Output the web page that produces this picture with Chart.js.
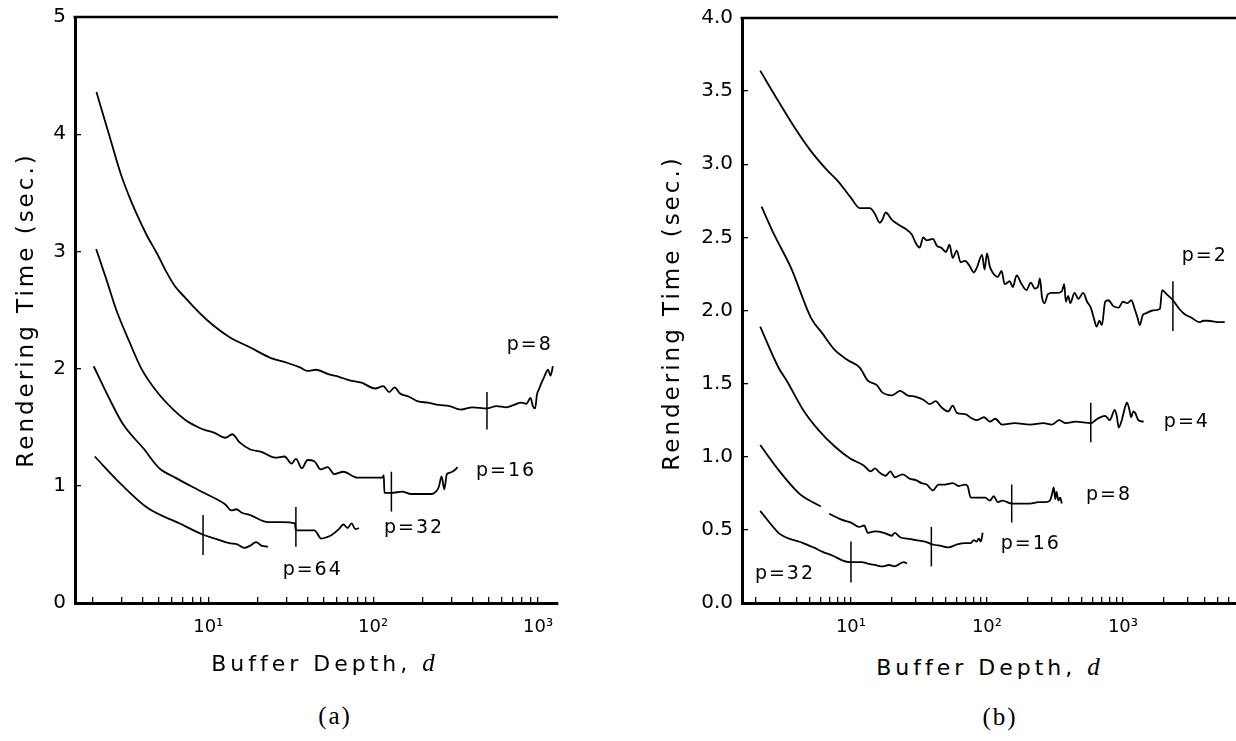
<!DOCTYPE html>
<html><head><meta charset="utf-8">
<script src="https://cdn.jsdelivr.net/npm/chart.js@4.4.1/dist/chart.umd.min.js"></script>
<style>
html,body{margin:0;padding:0;background:#fff;width:1236px;height:741px;overflow:hidden;position:relative;font-family:'DejaVu Sans',sans-serif;color:#000}
canvas{position:absolute;top:0}
#ca{left:0}
#cb{left:600px}
.t{position:absolute;white-space:nowrap;text-align:center}
.ytitle{width:400px;height:30px;line-height:30px;font-size:23px;letter-spacing:3px;transform:rotate(-90deg)}
.xtitle{width:400px;height:30px;line-height:30px;font-size:22px;letter-spacing:4px}
.cap{width:100px;height:30px;line-height:30px;font-family:'Liberation Serif',serif;font-size:25px;letter-spacing:2px}
.d{font-family:'Liberation Serif',serif;font-style:italic;font-size:25px;letter-spacing:0}
</style></head>
<body>
<canvas id="ca" width="560" height="650"></canvas>
<canvas id="cb" width="636" height="650"></canvas>
<div class="t ytitle" style="left:-175px;top:295px">Rendering Time (sec.)</div>
<div class="t ytitle" style="left:471px;top:298px">Rendering Time (sec.)</div>
<div class="t xtitle" style="left:123px;top:648px">Buffer Depth, <span class="d">d</span></div>
<div class="t xtitle" style="left:788px;top:652px">Buffer Depth, <span class="d">d</span></div>
<div class="t cap" style="left:285px;top:701px">(a)</div>
<div class="t cap" style="left:950px;top:702px">(b)</div>
<script>
// ---------- Panel (a) data: [buffer depth d, rendering time (s)] ----------
const aP8 = [[2.1,4.36],[2.3,4.17],[2.5,4.0],[2.75,3.8],[3.0,3.63],[3.25,3.5],[3.65,3.33],[4.23,3.14],[4.9,2.98],[5.5,2.84],[6.3,2.70],[7.2,2.61],[8.1,2.53],[9.9,2.41],[13.4,2.27],[18,2.18],[24,2.09],[30,2.05],[36,2.01],[40,1.98],[45,1.99],[54,1.95],[62,1.93],[72,1.90],[85,1.88],[103,1.83],[115,1.85],[125,1.80],[135,1.84],[145,1.79],[165,1.76],[187,1.72],[215,1.71],[250,1.69],[290,1.68],[340,1.65],[400,1.67],[490,1.66],[560,1.68],[640,1.67],[715,1.69],[790,1.71],[850,1.70],[900,1.75],[930,1.68],[960,1.66],[985,1.78],[1010,1.82],[1050,1.88],[1090,1.93],[1150,1.99],[1190,1.94],[1230,2.02]];
const aP16 = [[2.09,3.02],[2.4,2.77],[2.77,2.5],[3.3,2.24],[3.93,2.0],[4.9,1.8],[6.14,1.65],[7.3,1.56],[8.7,1.5],[9.4,1.48],[11,1.45],[12.7,1.41],[14,1.44],[15.5,1.37],[18,1.31],[21,1.29],[25.5,1.24],[29,1.25],[32,1.19],[34,1.23],[37,1.15],[40,1.22],[44,1.21],[48,1.14],[53,1.16],[58,1.10],[66,1.12],[80,1.07],[95,1.07],[114,1.07],[116,1.09],[117,0.94],[129,0.94],[150,0.95],[170,0.93],[200,0.93],[227,0.93],[240,0.95],[250,0.99],[260,1.08],[270,0.97],[280,1.10],[290,1.11],[310,1.13],[325,1.16]];
const aP32 = [[2.02,2.02],[2.5,1.75],[3.06,1.52],[4.04,1.32],[5.05,1.15],[6.3,1.07],[9.4,0.94],[12.7,0.84],[13.8,0.79],[14.8,0.80],[16,0.77],[18,0.75],[23,0.69],[28,0.69],[33.5,0.68],[34,0.62],[40,0.62],[44,0.62],[48.5,0.55],[52,0.56],[56,0.58],[62,0.63],[66,0.67],[70,0.64],[74,0.68],[78,0.63],[82,0.64]];
const aP64 = [[2.05,1.25],[2.98,1.01],[4.3,0.81],[6.67,0.68],[9.4,0.58],[11,0.55],[13.4,0.51],[15,0.50],[16.5,0.47],[18,0.49],[19.5,0.52],[21,0.49],[23,0.48]];
// vertical marks: [d, low, high]
const aMarks = [[490,1.48,1.80],[129,0.78,1.12],[34,0.48,0.82],[9.3,0.41,0.75]];
const aLabels = ['p=8','p=16','p=32','p=64'];
const aLabelAt = [[890,2.20],[640,1.13],[177,0.64],[43,0.28]];

// ---------- Panel (b) data ----------
const bP2 = [[2.15,3.64],[2.93,3.43],[3.86,3.25],[5.08,3.09],[6.67,2.96],[8.1,2.88],[10,2.77],[11.6,2.70],[13.8,2.70],[15,2.66],[16.3,2.60],[17,2.62],[18,2.67],[20,2.62],[23,2.58],[25,2.56],[28,2.52],[30,2.46],[32,2.43],[34,2.50],[36,2.48],[40,2.49],[43,2.44],[46,2.43],[50,2.40],[53,2.45],[56,2.36],[60,2.41],[64,2.33],[69,2.34],[75,2.30],[80,2.26],[84,2.29],[92,2.38],[96,2.28],[100,2.39],[105,2.30],[110,2.26],[120,2.23],[128,2.27],[135,2.18],[147,2.20],[155,2.16],[165,2.24],[180,2.18],[195,2.14],[210,2.19],[225,2.15],[237,2.16],[245,2.22],[254,2.09],[265,2.05],[280,2.11],[300,2.12],[330,2.12],[355,2.13],[370,2.18],[380,2.06],[395,2.10],[410,2.05],[440,2.12],[470,2.08],[510,2.12],[545,2.06],[580,2.02],[610,1.95],[640,1.89],[670,1.93],[700,1.90],[740,2.06],[780,2.07],[850,2.03],[930,2.02],[1000,2.06],[1080,2.05],[1150,2.07],[1230,2.00],[1280,1.95],[1330,1.90],[1400,1.97],[1470,1.98],[1650,2.00],[1870,2.01],[1940,2.14],[2100,2.11],[2330,2.07],[2600,2.01],[2800,1.98],[3200,1.95],[3650,1.92],[3900,1.93],[4200,1.93],[5000,1.92],[5600,1.92]];
const bP4 = [[2.2,2.71],[2.72,2.52],[3.63,2.29],[5.08,1.95],[6.2,1.84],[7.6,1.73],[9.5,1.66],[11.6,1.61],[13.3,1.52],[15.5,1.49],[17,1.44],[20,1.42],[23,1.45],[26,1.42],[30,1.41],[34,1.39],[38,1.36],[42,1.38],[46,1.34],[52,1.31],[56,1.35],[60,1.30],[70,1.29],[75,1.27],[84,1.25],[95,1.27],[105,1.24],[115,1.26],[129,1.22],[160,1.23],[207,1.22],[260,1.23],[300,1.22],[340,1.25],[380,1.23],[450,1.24],[580,1.23],[650,1.26],[740,1.28],[800,1.25],[870,1.32],[900,1.28],[930,1.20],[980,1.25],[1030,1.33],[1070,1.37],[1110,1.33],[1150,1.27],[1190,1.31],[1230,1.30],[1300,1.25],[1420,1.24]];
const bP8 = [[2.15,1.89],[2.93,1.61],[3.37,1.52],[4.45,1.32],[5.8,1.18],[7.6,1.07],[9.8,0.99],[12.4,0.94],[14,0.90],[15,0.92],[16.3,0.89],[18,0.87],[19.5,0.90],[21,0.86],[24,0.88],[27,0.85],[30,0.84],[33,0.82],[36,0.81],[40,0.77],[44,0.81],[49,0.81],[56,0.82],[62,0.80],[69,0.81],[72,0.80],[76,0.72],[85,0.72],[97,0.72],[105,0.70],[112,0.73],[120,0.69],[130,0.70],[152,0.68],[180,0.68],[207,0.68],[240,0.69],[270,0.69],[290,0.70],[300,0.74],[310,0.79],[318,0.71],[325,0.76],[335,0.70],[345,0.72],[355,0.68]];
const bP16 = [[2.15,1.08],[2.93,0.91],[4.15,0.75],[5.2,0.69],[6.0,0.66],[6.4,null],[6.9,0.61],[8.5,0.57],[10,0.55],[11.5,0.52],[12.5,0.53],[13.3,0.48],[15,0.49],[17.5,0.48],[20,0.46],[21,0.48],[23,0.45],[26,0.44],[30,0.43],[35,0.42],[40,0.40],[46,0.39],[52,0.38],[60,0.40],[69,0.41],[76,0.41],[80,0.43],[84,0.42],[87,0.44],[90,0.42],[93,0.48]];
const bP32 = [[2.15,0.63],[2.93,0.48],[3.15,0.46],[3.5,0.44],[4.45,0.41],[5.3,0.38],[6.2,0.35],[7.5,0.32],[8.7,0.29],[9.8,0.28],[12,0.28],[13.3,0.27],[15,0.26],[17.2,0.25],[19,0.26],[21,0.25],[23,0.27],[24.5,0.28],[25.8,0.27]];
const bMarks = [[2330,1.86,2.20],[580,1.10,1.37],[152,0.55,0.81],[39,0.25,0.52],[10,0.14,0.42]];
const bLabels = ['p=2','p=4','p=8','p=16','p=32'];
const bLabelAt = [[3990,2.37],[2950,1.24],[790,0.74],[210,0.40],[3.27,0.20]];

// ---------- axis ticks ----------
const mantissas = [1,2,3,4,5,6,7,8,9];
const decades = [0,1,2,3];
const sup = ['\u2070','\u00B9','\u00B2','\u00B3','\u2074'];

function logTicks(min,max){
  const out=[];
  decades.forEach(e=>mantissas.forEach(m=>{const v=m*Math.pow(10,e); if(v>=min&&v<=max) out.push(v);}));
  return out;
}
function fmtLog(v){
  const l=Math.log10(v);
  return Math.abs(l-Math.round(l))<1e-9 ? '10'+sup[Math.round(l)] : '';
}
function pts(arr){ return arr.map(p=>({x:p[0],y:p[1]})); }
function lineDs(arr){ return {data:pts(arr),borderColor:'#000',borderWidth:1.8,pointRadius:0,cubicInterpolationMode:'monotone',fill:false,borderJoinStyle:'round',spanGaps:false}; }
function markDs(m){ return {data:[{x:m[0],y:m[1]},{x:m[0],y:m[2]}],borderColor:'#000',borderWidth:1.5,pointRadius:0,fill:false}; }

const labelPlugin = {
  id:'plabels',
  afterDatasetsDraw(chart,args,opts){
    const {ctx,scales:{x,y}} = chart;
    ctx.save();
    ctx.font='19px "DejaVu Sans"';
    ctx.fillStyle='#000';
    ctx.textAlign='center';
    ctx.textBaseline='middle';
    if('letterSpacing' in ctx) ctx.letterSpacing='2px';
    opts.texts.forEach((t,i)=>ctx.fillText(t,x.getPixelForValue(opts.at[i][0]),y.getPixelForValue(opts.at[i][1])));
    // top frame line
    const a = chart.chartArea;
    ctx.letterSpacing='0px';
    ctx.strokeStyle='#000'; ctx.lineWidth=2.5;
    ctx.beginPath(); ctx.moveTo(a.left-1.5,a.top); ctx.lineTo(a.right,a.top); ctx.stroke();
    ctx.restore();
  }
};

function noPad(s){ s.paddingLeft=0; s.paddingRight=0; s.paddingTop=0; s.paddingBottom=0; }

function makeChart(id,series,marks,texts,at,xmin,xmax,ymax,ystep,yW,yFmt,pad){
  const datasets = series.map(lineDs).concat(marks.map(markDs));
  return new Chart(document.getElementById(id),{
    type:'line',
    data:{datasets},
    plugins:[labelPlugin],
    options:{
      responsive:false,animation:false,
      layout:{padding:pad},
      plugins:{legend:{display:false},tooltip:{enabled:false},plabels:{texts,at}},
      scales:{
        x:{type:'logarithmic',position:'bottom',min:xmin,max:xmax,
          afterBuildTicks:s=>{s.ticks=logTicks(xmin,xmax).map(v=>({value:v}));},
          afterFit:s=>{s.height=47; noPad(s);},
          ticks:{autoSkip:false,maxRotation:0,minRotation:0,padding:20,color:'#000',font:{family:'DejaVu Sans',size:18},callback:v=>fmtLog(v)},
          grid:{display:true,drawOnChartArea:false,drawTicks:true,tickLength:-6,color:'#000',lineWidth:1.3},
          border:{display:true,color:'#000',width:3}},
        y:{type:'linear',position:'left',min:0,max:ymax,
          afterFit:s=>{s.width=yW; noPad(s);},
          ticks:{stepSize:ystep,padding:15,color:'#000',font:{family:'DejaVu Sans',size:20},callback:yFmt},
          grid:{display:true,drawOnChartArea:false,drawTicks:true,tickLength:-6,color:'#000',lineWidth:1.3},
          border:{display:true,color:'#000',width:3}}
      }
    }
  });
}

makeChart('ca',[aP8,aP16,aP32,aP64],aMarks,aLabels,aLabelAt,1.556,1321,5,1,75,v=>String(v),{top:17,right:2,left:0,bottom:0});
makeChart('cb',[bP2,bP4,bP8,bP16,bP32],bMarks,bLabels,bLabelAt,1.58,6780,4,0.5,142,v=>v.toFixed(1),{top:18,right:0,left:0,bottom:0});
</script>
</body></html>
